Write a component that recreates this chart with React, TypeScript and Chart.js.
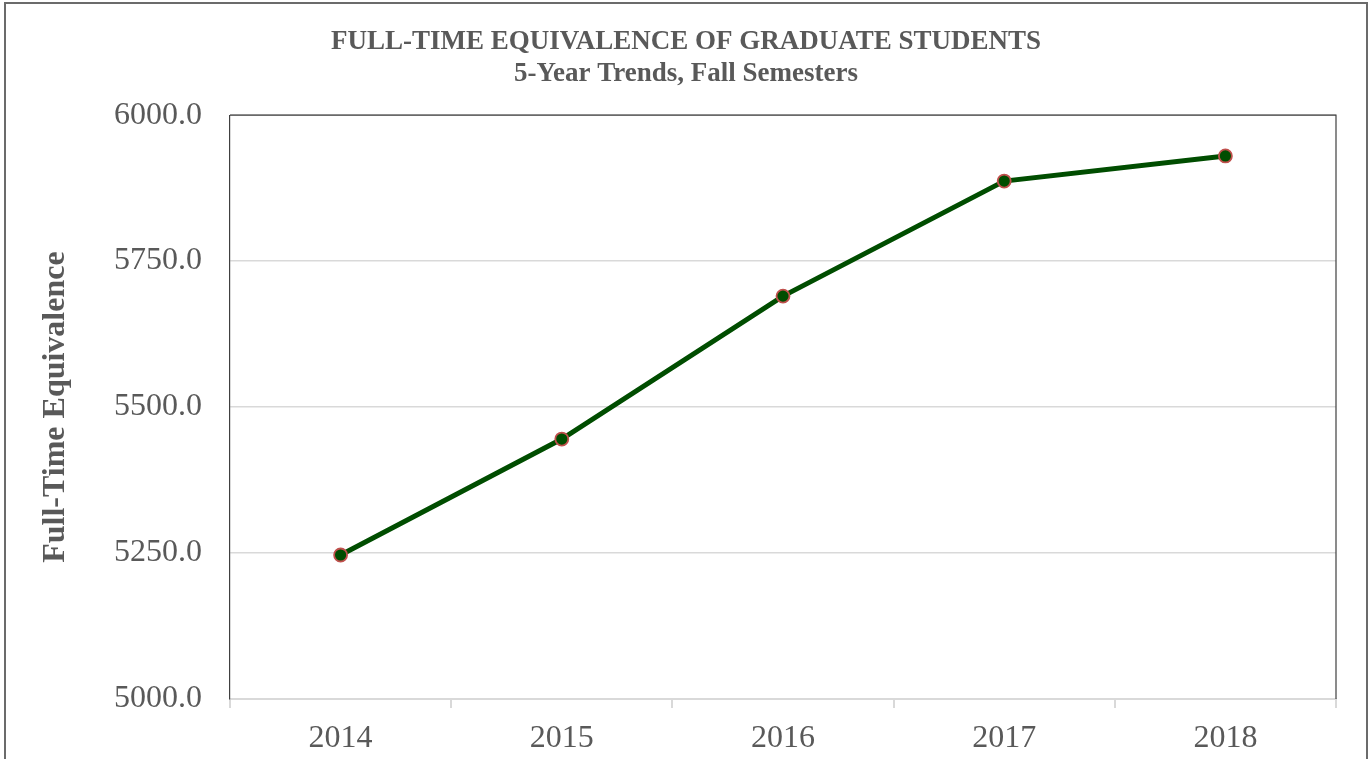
import React, { useEffect, useRef } from "react";
import { Chart, registerables } from "chart.js";

Chart.register(...registerables);

const years = ["2014", "2015", "2016", "2017", "2018"];
const fteValues = [5246.6, 5445.2, 5690.0, 5887.0, 5930.0];
const titleLines = ["FULL-TIME EQUIVALENCE OF GRADUATE STUDENTS", "5-Year Trends, Fall Semesters"];
const yAxisTitle = "Full-Time Equivalence";
const yMin = 5000;
const yMax = 6000;
const yStep = 250;

const framePlugin = {
  id: "frame",
  afterDraw(chart: any) {
    const { ctx, chartArea } = chart;
    ctx.save();
    // outer chart border
    ctx.strokeStyle = "#6b6b6b";
    ctx.lineWidth = 2;
    ctx.strokeRect(5, 3, 1362, 780);
    // plot frame top and right
    ctx.strokeStyle = "#404040";
    ctx.lineWidth = 1.2;
    ctx.beginPath();
    ctx.moveTo(chartArea.left, chartArea.top);
    ctx.lineTo(chartArea.right, chartArea.top);
    ctx.lineTo(chartArea.right, chartArea.bottom);
    ctx.stroke();
    ctx.restore();
  },
};

export default function App() {
  const ref = useRef<HTMLCanvasElement>(null);
  useEffect(() => {
    if (!ref.current) return;
    const chart = new Chart(ref.current, {
      type: "line",
      data: {
        labels: years,
        datasets: [
          {
            data: fteValues,
            borderColor: "#004d00",
            borderWidth: 5,
            backgroundColor: "#004d00",
            pointBackgroundColor: "#004d00",
            pointBorderColor: "#c0504d",
            pointBorderWidth: 1.8,
            pointRadius: 6.5,
            tension: 0,
          },
        ],
      },
      options: {
        animation: false,
        responsive: false,
        layout: { padding: 0 },
        plugins: {
          legend: { display: false },
          tooltip: { enabled: false },
          title: {
            display: true,
            text: titleLines,
            color: "#595959",
            font: { family: "'Liberation Serif', 'Times New Roman', serif", size: 27, weight: "bold", lineHeight: 1.15 },
            padding: { top: 27, bottom: 26 },
          },
        },
        scales: {
          x: {
            type: "category",
            offset: true,
            grid: {
              offset: true,
              drawOnChartArea: false,
              drawTicks: true,
              tickLength: 9,
              color: "#d9d9d9",
              lineWidth: 2,
            },
            border: { display: true, color: "#d9d9d9", width: 2 },
            ticks: {
              color: "#595959",
              font: { family: "'Liberation Serif', 'Times New Roman', serif", size: 32 },
              padding: 11,
            },
            afterFit(scale: any) {
              scale.height = 60;
            },
          },
          y: {
            min: yMin,
            max: yMax,
            grid: { color: "#d9d9d9", lineWidth: 1.5, drawTicks: false },
            border: { display: true, color: "#404040", width: 1.2 },
            ticks: {
              stepSize: yStep,
              color: "#595959",
              padding: 28,
              font: { family: "'Liberation Serif', 'Times New Roman', serif", size: 32 },
              callback: (v: any) => Number(v).toFixed(1),
            },
            title: {
              display: true,
              text: yAxisTitle,
              color: "#595959",
              font: { family: "'Liberation Serif', 'Times New Roman', serif", size: 32, weight: "bold" },
              padding: { top: 37, bottom: 0 },
            },
            afterFit(scale: any) {
              scale.width = 230;
            },
          },
          spacer: {
            type: "linear",
            position: "right",
            display: true,
            grid: { display: false, drawTicks: false },
            border: { display: false },
            ticks: { display: false },
            afterFit(scale: any) {
              scale.width = 36;
            },
          },
        },
      },
      plugins: [framePlugin],
    });
    return () => chart.destroy();
  }, []);
  return (
    <div style={{ position: "absolute", left: 0, top: 0, width: 1372, height: 759, background: "#fff" }}>
      <canvas ref={ref} width={1372} height={759} style={{ display: "block" }} />
    </div>
  );
}
